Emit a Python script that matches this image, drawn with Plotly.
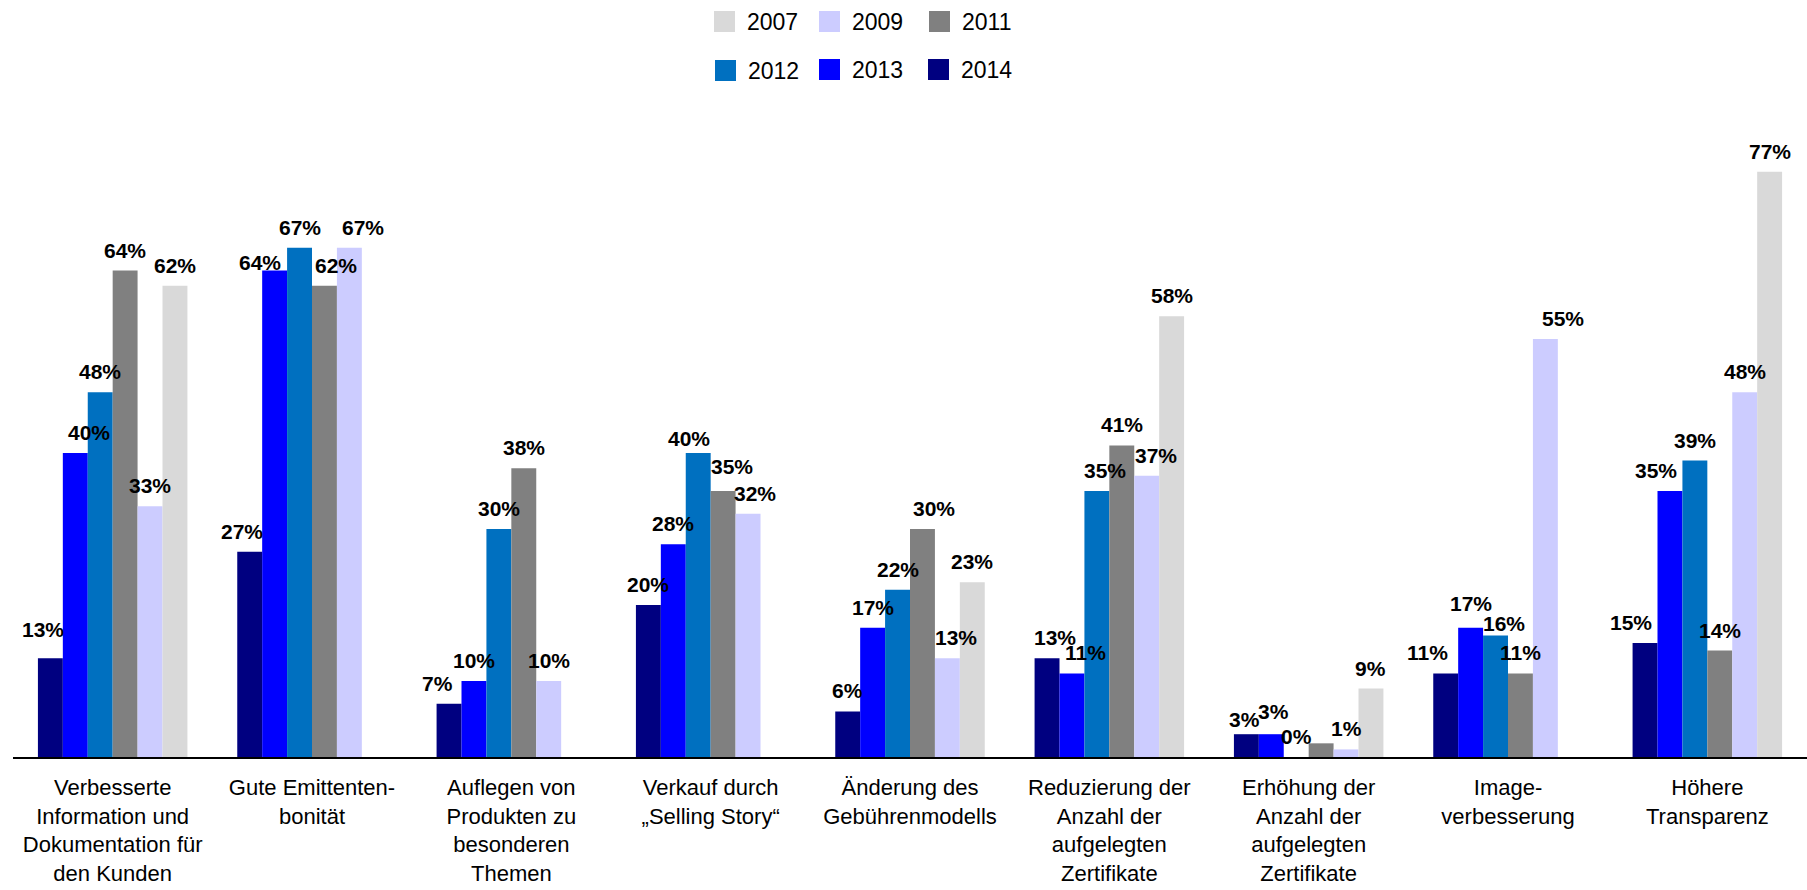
import plotly.graph_objects as go

# Survey categories (x axis)
categories = [
    "Verbesserte<br>Information und<br>Dokumentation für<br>den Kunden",
    "Gute Emittenten-<br>bonität",
    "Auflegen von<br>Produkten zu<br>besonderen<br>Themen",
    "Verkauf durch<br>„Selling Story“",
    "Änderung des<br>Gebührenmodells",
    "Reduzierung der<br>Anzahl der<br>aufgelegten<br>Zertifikate",
    "Erhöhung der<br>Anzahl der<br>aufgelegten<br>Zertifikate",
    "Image-<br>verbesserung",
    "Höhere<br>Transparenz",
]

# Share of answers per survey year, in percent (None = not asked that year)
y2014 = [13, 27, 7, 20, 6, 13, 3, 11, 15]
y2013 = [40, 64, 10, 28, 17, 11, 3, 17, 35]
y2012 = [48, 67, 30, 40, 22, 35, 0, 16, 39]
y2011 = [64, 62, 38, 35, 30, 41, 1.8, 11, 14]
y2009 = [33, 67, 10, 32, 13, 37, 1, 55, 48]
y2007 = [62, None, None, None, 23, 58, 9, None, 77]

years = ["2014", "2013", "2012", "2011", "2009", "2007"]
values = [y2014, y2013, y2012, y2011, y2009, y2007]
colors = ["#000080", "#0000FF", "#0070C0", "#808080", "#CCCCFF", "#D9D9D9"]

# bars whose value is not printed
unlabeled = {("2011", 6)}

# hand placement of crowded value labels: (year, category index) -> (dx, dy) in px
label_nudge = {
    ("2014", 0): (-7, 8), ("2013", 0): (14, 0),
    ("2014", 1): (-8, 0), ("2013", 1): (-15, -12), ("2011", 1): (12, 0),
    ("2009", 1): (14, 0),
    ("2014", 2): (-12, 0),
    ("2012", 3): (-9, -6), ("2011", 3): (9, 4), ("2009", 3): (7, 0),
    ("2011", 4): (12, 0), ("2009", 4): (9, 0),
    ("2014", 5): (8, 0), ("2013", 5): (14, 0), ("2012", 5): (8, 0),
    ("2009", 5): (9, 0),
    ("2014", 6): (-2, -6), ("2013", 6): (2, 2),
    ("2014", 7): (-18, 0), ("2013", 7): (0, 4), ("2012", 7): (8, -9),
    ("2009", 7): (18, 0),
    ("2014", 8): (-14, 0), ("2013", 8): (-14, 0),
}

W, H = 1807, 890
M_L, M_R, M_T, M_B = 13, 0, 149, 133
BARGAP = 0.25
FONT = "Liberation Sans, Arial, sans-serif"

fig = go.Figure()
for year, vals, col in zip(years, values, colors):
    fig.add_trace(go.Bar(
        name=year, x=categories, y=vals,
        marker=dict(color=col, line=dict(width=0)),
        showlegend=False,
    ))

# value labels above bars
plot_w = W - M_L - M_R
bar_px = plot_w / len(categories) * (1 - BARGAP) / len(years)
annotations = []
for k, (year, vals) in enumerate(zip(years, values)):
    for i, v in enumerate(vals):
        if v is None or (year, i) in unlabeled:
            continue
        dx, dy = label_nudge.get((year, i), (0, 0))
        annotations.append(dict(
            x=categories[i], y=v, xref="x", yref="y",
            text=f"{v:.0f}%", showarrow=False,
            xanchor="center", yanchor="bottom",
            xshift=(k - (len(years) - 1) / 2) * bar_px + dx, yshift=7 + dy,
            font=dict(family=FONT, size=21, color="#000000", weight="bold"),
        ))

# legend key drawn in two rows above the plot
plot_h = H - M_T - M_B


def px_x(p):
    return (p - M_L) / plot_w


def px_y(p):
    return (H - M_B - p) / plot_h


legend_items = [
    ("2007", 714, 11), ("2009", 819, 11), ("2011", 929, 11),
    ("2012", 715, 60), ("2013", 819, 59), ("2014", 928, 59),
]
color_of = dict(zip(years, colors))
shapes = []
SW = 21
for year, lx, ly in legend_items:
    shapes.append(dict(
        type="rect", xref="paper", yref="paper",
        x0=px_x(lx), x1=px_x(lx + SW), y0=px_y(ly + SW), y1=px_y(ly),
        fillcolor=color_of[year], line=dict(width=0),
    ))
    annotations.append(dict(
        x=px_x(lx + SW + 10), y=px_y(ly + SW / 2), xref="paper", yref="paper",
        text=year, showarrow=False, xanchor="left", yanchor="middle",
        font=dict(family=FONT, size=23, color="#000000"),
    ))

fig.update_layout(
    width=W, height=H,
    margin=dict(l=M_L, r=M_R, t=M_T, b=M_B, pad=0),
    paper_bgcolor="white", plot_bgcolor="white",
    barmode="group", bargap=BARGAP, bargroupgap=0,
    annotations=annotations, shapes=shapes,
    showlegend=False,
    xaxis=dict(
        showline=True, linecolor="#000000", linewidth=1.5,
        ticks="", showgrid=False, zeroline=False, automargin=False,
        tickfont=dict(family=FONT, size=22, color="#000000"),
        ticklabelstandoff=10,
    ),
    yaxis=dict(
        range=[0, 80], visible=False, showgrid=False, zeroline=False,
        automargin=False,
    ),
)

fig.write_html("out.html")
